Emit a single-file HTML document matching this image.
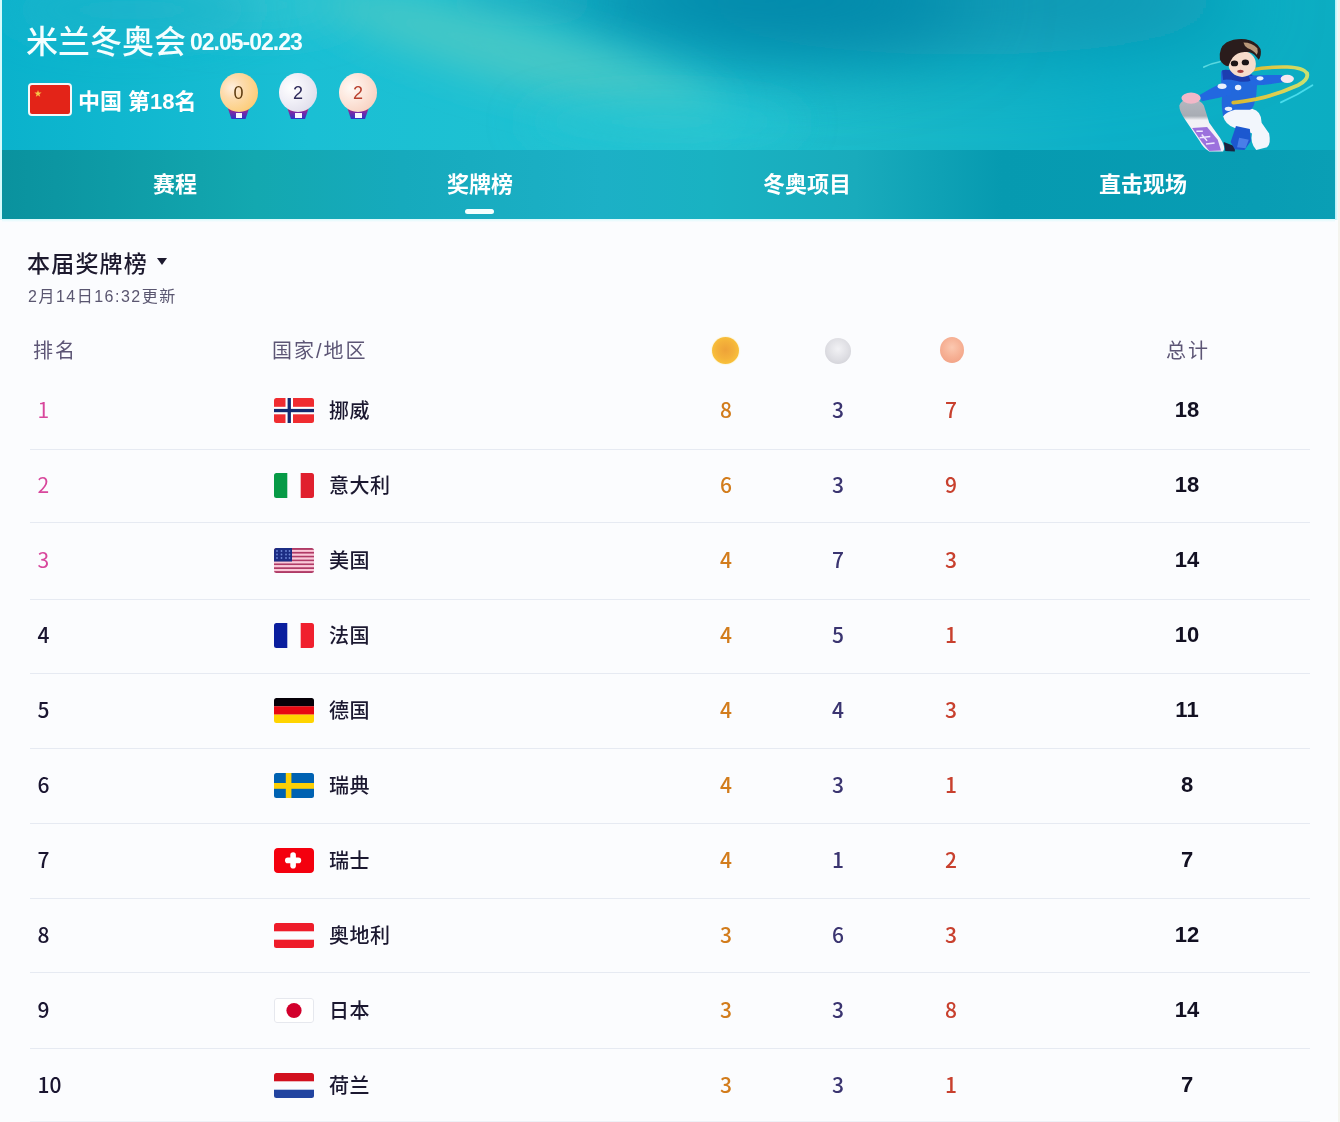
<!DOCTYPE html>
<html lang="zh-CN">
<head>
<meta charset="utf-8">
<title>米兰冬奥会 奖牌榜</title>
<style>
*{margin:0;padding:0;box-sizing:border-box;}
html,body{width:1340px;height:1122px;overflow:hidden;background:#fbfcfe;}
body{position:relative;font-family:"Liberation Sans","Noto Sans CJK SC",sans-serif;}
.abs{position:absolute;}
.cjk{font-family:"Liberation Sans","Noto Sans CJK SC",sans-serif;}
#banner{position:absolute;left:2px;top:0;width:1333px;height:219px;overflow:hidden;background:#14b0c6;box-shadow:inset 1px 0 0 rgba(10,110,150,0.5),inset -1px 0 0 rgba(10,110,150,0.5);}
.lglow{position:absolute;left:0;top:0;width:2px;height:220px;background:#d6fbfc;}
.rglow{position:absolute;left:1335px;top:0;width:3px;height:220px;background:linear-gradient(90deg,#b8eef6,#eefefe);}
#tabs{position:absolute;left:-1px;top:151px;width:1334px;height:69px;}
.tab{position:absolute;top:0;height:69px;line-height:68px;color:#fff;font-size:22px;font-weight:bold;white-space:nowrap;}
.uline{position:absolute;left:464px;top:58px;width:29px;height:5px;border-radius:3px;background:#f4fffe;}
.glow{position:absolute;left:2px;top:219px;width:1333px;height:3px;background:linear-gradient(#d8fafc,#fafbfe);}
.rightedge{position:absolute;left:1338px;top:0;width:2px;height:1122px;background:#f4f4ee;}
.medal{position:absolute;top:73px;width:38px;height:38.5px;border-radius:50%;text-align:center;line-height:40px;font-size:18px;}
.ribbon{position:absolute;top:107px;width:22px;height:12px;clip-path:polygon(0 0,100% 0,82% 100%,18% 100%);background:linear-gradient(180deg,#c02858 0,#7a2aa8 45%,#2c34c4 100%);}
.ribbon i{position:absolute;left:8px;top:6px;width:6.5px;height:5px;background:#fbf8ff;}
/* content */
.h1{position:absolute;left:27px;top:245px;font-size:23px;font-weight:500;letter-spacing:1.2px;color:#1d1a2e;white-space:nowrap;}
.tri{position:absolute;left:157px;top:258px;width:0;height:0;border-left:5px solid transparent;border-right:5px solid transparent;border-top:7px solid #1d1a2e;}
.upd{position:absolute;left:28px;top:283px;font-size:16px;letter-spacing:1.5px;color:#5a5670;white-space:nowrap;}
.th{position:absolute;top:335px;font-size:20px;letter-spacing:2px;color:#5c5575;white-space:nowrap;}
.dot{position:absolute;top:337px;width:27px;height:27px;border-radius:50%;}
.row{position:absolute;left:0;width:1340px;height:75px;}
.row .rk{position:absolute;left:37.5px;top:-1px;height:75px;line-height:75px;font-size:21px;color:#1a1530;font-weight:500;font-family:"Noto Sans CJK SC",sans-serif;}
.row .rk.top{color:#d8479c;font-weight:400;}
.row .fl{position:absolute;left:274px;width:40px;height:25px;border-radius:2.5px;overflow:hidden;}
.row .nm{position:absolute;left:329px;top:1px;height:75px;line-height:75px;font-size:20px;font-weight:500;color:#1b1830;letter-spacing:0.5px;white-space:nowrap;}
.row .n{position:absolute;top:0;width:60px;height:75px;line-height:72px;font-size:21px;font-weight:bold;text-align:center;}
.g,.s,.b{font-family:"Noto Sans CJK SC",sans-serif;font-weight:500 !important;}
.g{left:696px;color:#d27c1c;}
.s{left:808px;color:#3a3470;}
.b{left:921px;color:#c8402e;}
.row .t{left:1157px;color:#121022;font-size:22px;top:1px;}
.hr{position:absolute;left:30px;width:1280px;height:1px;background:#e6eaf2;}
</style>
</head>
<body>
<div id="banner">
<svg class="abs" style="left:0;top:0" width="1334" height="219" viewBox="0 0 1334 219">
<defs>
<linearGradient id="bgx" x1="0" x2="1" y1="0" y2="0">
<stop offset="0" stop-color="#0ab2cc"/><stop offset="0.23" stop-color="#1abfd4"/><stop offset="0.53" stop-color="#22c2d0"/>
<stop offset="0.68" stop-color="#18b8c8"/><stop offset="0.83" stop-color="#0cb0c8"/><stop offset="1" stop-color="#0cadc2"/>
</linearGradient>
<linearGradient id="tabx" x1="0" x2="1" y1="0" y2="0">
<stop offset="0" stop-color="#0a929e"/><stop offset="0.04" stop-color="#0c96a2"/><stop offset="0.19" stop-color="#13a8b0"/>
<stop offset="0.3" stop-color="#16aabd"/><stop offset="0.45" stop-color="#1cb0c6"/><stop offset="0.53" stop-color="#19b2c2"/>
<stop offset="0.64" stop-color="#19abbc"/><stop offset="0.75" stop-color="#069ab0"/><stop offset="0.94" stop-color="#089db4"/><stop offset="1" stop-color="#0a9fb5"/>
</linearGradient>
<filter id="bl1" filterUnits="userSpaceOnUse" x="-300" y="-300" width="2000" height="700"><feGaussianBlur stdDeviation="40"/></filter>
<filter id="bl2" filterUnits="userSpaceOnUse" x="-300" y="-300" width="2000" height="700"><feGaussianBlur stdDeviation="20"/></filter>
</defs>
<rect width="1334" height="219" fill="url(#bgx)"/>
<ellipse cx="960" cy="0" rx="280" ry="55" fill="#0896b2" filter="url(#bl1)"/>
<ellipse cx="760" cy="0" rx="210" ry="55" fill="#0088aa" filter="url(#bl1)"/>
<ellipse cx="520" cy="0" rx="80" ry="14" fill="#149eb6" filter="url(#bl2)" opacity="0.8"/>
<ellipse cx="250" cy="5" rx="100" ry="22" fill="#30c4d0" filter="url(#bl2)"/>
<ellipse cx="130" cy="10" rx="130" ry="30" fill="#1db4ca" filter="url(#bl2)" opacity="0.8"/>
<ellipse cx="520" cy="55" rx="210" ry="30" transform="rotate(16 520 55)" fill="#46c8c6" filter="url(#bl2)"/>
<ellipse cx="660" cy="122" rx="140" ry="22" fill="#28c6d4" filter="url(#bl2)" opacity="0.7"/>
<rect y="150" width="1334" height="69" fill="url(#tabx)"/>
</svg>
  <div class="abs" style="left:24px;top:16px;color:#f4feff;font-size:32px;font-weight:500;white-space:nowrap;">米兰冬奥会<span style="font-weight:bold;font-size:23px;letter-spacing:-1px;margin-left:4px;position:relative;top:-3px;">02.05-02.23</span></div>
  <!-- China flag -->
  <div class="abs" style="left:26px;top:83px;width:44px;height:33px;border:2px solid #f4f8f8;border-radius:4px;background:#e32418;overflow:hidden;">
    <svg width="40" height="29" viewBox="0 0 40 29" style="position:absolute;left:0;top:0"><polygon points="8,5 8.9,7.6 11.6,7.6 9.4,9.2 10.2,11.8 8,10.2 5.8,11.8 6.6,9.2 4.4,7.6 7.1,7.6" fill="#f6c848"/></svg>
  </div>
  <div class="abs" style="left:76px;top:83px;color:#fff;font-size:22px;font-weight:bold;white-space:nowrap;">中国 第18名</div>
  <!-- medals -->
  <div class="ribbon" style="left:225.5px;"><i></i></div>
  <div class="medal" style="left:217.5px;background:radial-gradient(circle at 32% 38%,#fff0e0 0,#fddcae 30%,#fccf80 70%,#f8c860 92%,#f4e4a8 100%);color:#5e3c10;">0</div>
  <div class="ribbon" style="left:285px;"><i></i></div>
  <div class="medal" style="left:277px;background:radial-gradient(circle at 32% 38%,#ffffff 0,#f2f1f8 35%,#e2e0ec 75%,#d2d0e2 92%,#eceaf6 100%);color:#2e2a5a;">2</div>
  <div class="ribbon" style="left:345px;"><i></i></div>
  <div class="medal" style="left:337px;background:radial-gradient(circle at 32% 38%,#fffaf6 0,#fde8de 35%,#f8d4c4 75%,#f0c0ac 92%,#fae4da 100%);color:#b8402e;">2</div>
<svg class="abs" style="left:1173px;top:35px" width="140" height="120" viewBox="0 0 1309 1122">
<defs>
<linearGradient id="ring" x1="0" x2="1" y1="0" y2="0"><stop offset="0" stop-color="#d8b830"/><stop offset="0.6" stop-color="#e0d050"/><stop offset="1" stop-color="#c8e070"/></linearGradient>
<linearGradient id="board" x1="0" x2="0" y1="0" y2="1"><stop offset="0" stop-color="#b4b8c0"/><stop offset="0.32" stop-color="#a8acb4"/><stop offset="0.4" stop-color="#f2f2f6"/><stop offset="1" stop-color="#f4f2fa"/></linearGradient>
<filter id="mb" x="-20%" y="-20%" width="140%" height="140%"><feGaussianBlur stdDeviation="6"/></filter>
</defs>
<g filter="url(#mb)">
<path d="M270 300 Q340 265 420 250" stroke="#5ad8e0" stroke-width="16" fill="none" stroke-linecap="round"/>
<path d="M990 630 Q1150 560 1285 470" stroke="#48dcec" stroke-width="16" fill="none" stroke-linecap="round"/>
<path d="M700 330 Q850 295 1050 300 Q1200 305 1235 360" stroke="url(#ring)" stroke-width="32" fill="none" stroke-linecap="round"/>
<path d="M40 660 Q60 600 140 600 Q240 600 270 660 L320 820 L420 960 Q480 1050 450 1090 L320 1090 Q260 1050 230 990 L100 800 Q40 720 40 660Z" fill="url(#board)"/>
<path d="M160 870 L300 860 L400 980 L430 1080 L320 1085 L250 1000Z" fill="#8c5ad8" opacity="0.85"/>
<path d="M200 900 L260 900 M230 960 L330 950 M290 1020 L370 1010 M250 930 L300 990" stroke="#f0e8ff" stroke-width="14"/>
<path d="M455 1000 L560 1040 L560 1090 L470 1085 Z" fill="#1c2440"/>
<path d="M450 760 Q470 690 560 690 L720 690 Q810 710 810 820 L880 920 Q900 1020 860 1050 L760 1075 Q700 1010 720 920 L640 880 L560 870 Q470 840 450 760Z" fill="#f2f6fc"/>
<path d="M570 850 L700 880 L710 990 L650 1075 L560 1070 L520 1000 Z" fill="#1e58d0"/>
<path d="M600 960 L690 980 L660 1060 L580 1050Z" fill="#4a7ee8"/>
<path d="M430 340 Q520 310 620 380 Q700 350 740 380 L770 430 L760 560 Q740 690 700 700 L560 700 Q480 720 450 760 Q430 650 440 580 Q430 450 430 340Z" fill="#2468dc"/>
<path d="M440 330 Q520 310 600 380 Q660 400 720 370 L730 420 Q650 450 580 430 Q490 410 450 420Z" fill="#1a3eb0"/>
<path d="M430 450 Q500 440 530 480 L520 560 Q400 590 250 620 L230 560 Q330 500 430 450Z" fill="#2068e0"/>
<path d="M690 380 Q850 370 1000 375 L1020 440 Q860 470 720 470Z" fill="#2068e0"/>
<ellipse cx="150" cy="590" rx="90" ry="52" fill="#f2b8c8"/>
<ellipse cx="1050" cy="410" rx="62" ry="38" fill="#f6e8f0"/>
<ellipse cx="440" cy="480" rx="42" ry="26" fill="#e8f0fc"/>
<ellipse cx="590" cy="490" rx="30" ry="26" fill="#e8f0fc"/>
<ellipse cx="795" cy="405" rx="32" ry="20" fill="#e8f0fc"/>
<ellipse cx="500" cy="690" rx="35" ry="20" fill="#e8f0fc"/>
<ellipse cx="628" cy="270" rx="128" ry="122" fill="#f7dccb"/>
<path d="M420 230 Q405 120 480 70 Q560 30 660 40 Q760 55 800 130 Q812 190 782 232 L762 205 Q722 152 650 160 Q580 165 540 210 Q512 250 500 292 Q450 292 420 230 Z" fill="#2c1c1a"/>
<path d="M640 70 Q720 70 770 125 Q780 165 765 185 Q730 140 680 125 Q650 110 640 70Z" fill="#b8987a"/>
<ellipse cx="556" cy="266" rx="34" ry="27" fill="#1a1214"/>
<ellipse cx="658" cy="256" rx="34" ry="28" fill="#1a1214"/>
<ellipse cx="612" cy="340" rx="30" ry="16" fill="#a33a3a"/>
<path d="M1235 360 Q1250 420 1150 470 Q950 560 760 600 Q620 625 545 632" stroke="url(#ring)" stroke-width="36" fill="none" stroke-linecap="round"/>
</g>
</svg>
  <div id="tabs">
    <div class="tab" style="left:152px;">赛程</div>
    <div class="tab" style="left:446px;">奖牌榜</div>
    <div class="tab" style="left:762px;">冬奥项目</div>
    <div class="tab" style="left:1098px;">直击现场</div>
    <div class="uline"></div>
  </div>
</div>
<div class="glow"></div>
<div class="lglow"></div>
<div class="rglow"></div>

<div class="h1">本届奖牌榜</div>
<div class="tri"></div>
<div class="upd">2月14日16:32更新</div>

<div class="th" style="left:33px;">排名</div>
<div class="th" style="left:272px;">国家/地区</div>
<div class="dot" style="left:712px;top:337px;width:27px;height:27px;background:radial-gradient(circle at 50% 48%,#eea238 0,#f4b23a 45%,#fac43a 78%,#ffe070 100%);box-shadow:0 0 1.5px #ffe680;"></div>
<div class="dot" style="left:825px;top:338px;width:26px;height:25.5px;background:radial-gradient(circle at 50% 42%,#f2f2f5 0,#dedee3 55%,#cbcbd2 100%);"></div>
<div class="dot" style="left:940px;top:336.5px;width:24px;height:26px;background:radial-gradient(circle at 50% 40%,#fbc8b0 0,#f6b094 50%,#f09c80 100%);"></div>
<div class="th" style="left:1166px;">总计</div>

<div id="rows">
<div class="row" style="top:372.5px;"><div class="rk top">1</div><svg class="fl" style="top:25px" width="40" height="25" viewBox="0 0 40 25"><rect width="40" height="25" fill="#f02c30"/><rect x="11.5" width="7.5" height="25" fill="#fff"/><rect y="8.8" width="40" height="7.5" fill="#fff"/><rect x="13.6" width="3.3" height="25" fill="#14296e"/><rect y="10.9" width="40" height="3.3" fill="#14296e"/></svg><div class="nm">挪威</div><div class="n g">8</div><div class="n s">3</div><div class="n b">7</div><div class="n t">18</div></div>
<div class="row" style="top:448.0px;"><div class="rk top">2</div><svg class="fl" style="top:25px" width="40" height="25" viewBox="0 0 40 25"><rect width="13.3" height="25" fill="#069a46"/><rect x="26.7" width="13.3" height="25" fill="#e0202e"/></svg><div class="nm">意大利</div><div class="n g">6</div><div class="n s">3</div><div class="n b">9</div><div class="n t">18</div></div>
<div class="row" style="top:522.5px;"><div class="rk top">3</div><svg class="fl" style="top:25px" width="40" height="25" viewBox="0 0 40 25"><rect y="0.000" width="40" height="1.973" fill="#b03a66"/><rect y="1.923" width="40" height="1.973" fill="#fcc8d8"/><rect y="3.846" width="40" height="1.973" fill="#b03a66"/><rect y="5.769" width="40" height="1.973" fill="#fcc8d8"/><rect y="7.692" width="40" height="1.973" fill="#b03a66"/><rect y="9.615" width="40" height="1.973" fill="#fcc8d8"/><rect y="11.538" width="40" height="1.973" fill="#b03a66"/><rect y="13.462" width="40" height="1.973" fill="#fcc8d8"/><rect y="15.385" width="40" height="1.973" fill="#b03a66"/><rect y="17.308" width="40" height="1.973" fill="#fcc8d8"/><rect y="19.231" width="40" height="1.973" fill="#b03a66"/><rect y="21.154" width="40" height="1.973" fill="#fcc8d8"/><rect y="23.077" width="40" height="1.973" fill="#b03a66"/><rect width="18" height="13.5" fill="#1c2d84"/><circle cx="3" cy="3" r="0.9" fill="#6d86d6"/><circle cx="7.5" cy="3" r="0.9" fill="#6d86d6"/><circle cx="12" cy="3" r="0.9" fill="#6d86d6"/><circle cx="15.5" cy="3" r="0.9" fill="#6d86d6"/><circle cx="3" cy="6.5" r="0.9" fill="#6d86d6"/><circle cx="7.5" cy="6.5" r="0.9" fill="#6d86d6"/><circle cx="12" cy="6.5" r="0.9" fill="#6d86d6"/><circle cx="15.5" cy="6.5" r="0.9" fill="#6d86d6"/><circle cx="3" cy="10" r="0.9" fill="#6d86d6"/><circle cx="7.5" cy="10" r="0.9" fill="#6d86d6"/><circle cx="12" cy="10" r="0.9" fill="#6d86d6"/><circle cx="15.5" cy="10" r="0.9" fill="#6d86d6"/></svg><div class="nm">美国</div><div class="n g">4</div><div class="n s">7</div><div class="n b">3</div><div class="n t">14</div></div>
<div class="row" style="top:598.0px;"><div class="rk">4</div><svg class="fl" style="top:25px" width="40" height="25" viewBox="0 0 40 25"><rect width="13.3" height="25" fill="#0a1e9e"/><rect x="26.7" width="13.3" height="25" fill="#f0202e"/></svg><div class="nm">法国</div><div class="n g">4</div><div class="n s">5</div><div class="n b">1</div><div class="n t">10</div></div>
<div class="row" style="top:672.5px;"><div class="rk">5</div><svg class="fl" style="top:25px" width="40" height="25" viewBox="0 0 40 25"><rect width="40" height="8.4" fill="#050008"/><rect y="8.3" width="40" height="8.4" fill="#e80812"/><rect y="16.6" width="40" height="8.4" fill="#ffd400"/></svg><div class="nm">德国</div><div class="n g">4</div><div class="n s">4</div><div class="n b">3</div><div class="n t">11</div></div>
<div class="row" style="top:748.0px;"><div class="rk">6</div><svg class="fl" style="top:25px" width="40" height="25" viewBox="0 0 40 25"><rect width="40" height="25" fill="#0062b2"/><rect x="11.8" width="5.6" height="25" fill="#fccf06"/><rect y="10" width="40" height="5.8" fill="#fccf06"/></svg><div class="nm">瑞典</div><div class="n g">4</div><div class="n s">3</div><div class="n b">1</div><div class="n t">8</div></div>
<div class="row" style="top:822.5px;"><div class="rk">7</div><svg class="fl" style="top:25px" width="40" height="25" viewBox="0 0 40 25"><rect width="40" height="25" rx="4" fill="#f4000e"/><rect x="11" y="9.6" width="16.2" height="5.6" rx="2.8" fill="#fff"/><rect x="16.3" y="4.3" width="5.6" height="16.2" rx="2.8" fill="#fff"/></svg><div class="nm">瑞士</div><div class="n g">4</div><div class="n s">1</div><div class="n b">2</div><div class="n t">7</div></div>
<div class="row" style="top:897.5px;"><div class="rk">8</div><svg class="fl" style="top:25px" width="40" height="25" viewBox="0 0 40 25"><rect width="40" height="8.3" fill="#ee1c2a"/><rect y="16.7" width="40" height="8.3" fill="#ee1c2a"/></svg><div class="nm">奥地利</div><div class="n g">3</div><div class="n s">6</div><div class="n b">3</div><div class="n t">12</div></div>
<div class="row" style="top:972.5px;"><div class="rk">9</div><svg class="fl" style="top:25px" width="40" height="25" viewBox="0 0 40 25"><rect x="0.5" y="0.5" width="39" height="24" rx="2.5" fill="#fff" stroke="#e6e8ee" stroke-width="1"/><circle cx="20" cy="12.5" r="7.6" fill="#d2002c"/></svg><div class="nm">日本</div><div class="n g">3</div><div class="n s">3</div><div class="n b">8</div><div class="n t">14</div></div>
<div class="row" style="top:1047.5px;"><div class="rk">10</div><svg class="fl" style="top:25px" width="40" height="25" viewBox="0 0 40 25"><rect width="40" height="8.3" fill="#d2101e"/><rect y="16.7" width="40" height="8.3" fill="#2244a0"/></svg><div class="nm">荷兰</div><div class="n g">3</div><div class="n s">3</div><div class="n b">1</div><div class="n t">7</div></div>
<div class="hr" style="top:449px;"></div>
<div class="hr" style="top:522px;"></div>
<div class="hr" style="top:599px;"></div>
<div class="hr" style="top:673px;"></div>
<div class="hr" style="top:748px;"></div>
<div class="hr" style="top:823px;"></div>
<div class="hr" style="top:898px;"></div>
<div class="hr" style="top:972px;"></div>
<div class="hr" style="top:1048px;"></div>
<div class="hr" style="top:1121px;opacity:0.6;"></div>
</div><!--/rows-->

<div class="rightedge"></div>
</body>
</html>
